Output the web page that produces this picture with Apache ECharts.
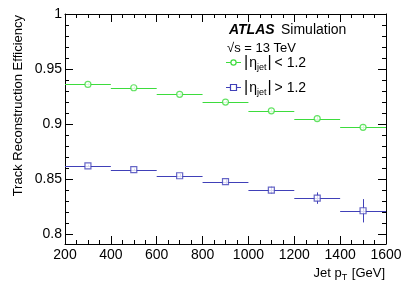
<!DOCTYPE html>
<html><head><meta charset="utf-8">
<script src="https://cdn.jsdelivr.net/npm/echarts@6/dist/echarts.min.js"></script>
<style>html,body{margin:0;padding:0;background:#fff}#c{width:407px;height:292px}</style>
</head><body><div id="c"></div>
<script>
// ---- data ----
const binLow  = [200, 400, 600, 800, 1000, 1200, 1400];
const binHigh = [400, 600, 800, 1000, 1200, 1400, 1600];
const binCenter = [300, 500, 700, 900, 1100, 1300, 1500];
const effLowEta  = [0.936, 0.933, 0.927, 0.920, 0.912, 0.905, 0.897];
const errLowEta  = [0.001, 0.001, 0.001, 0.001, 0.0015, 0.002, 0.002];
const effHighEta = [0.862, 0.8585, 0.853, 0.8476, 0.840, 0.8327, 0.8212];
const errHighEta = [0.001, 0.001, 0.0015, 0.002, 0.003, 0.0052, 0.0106];
const yMajorTicks = [0.8, 0.85, 0.9, 0.95, 1.0];
const yMinorTicks = [0.8,0.81,0.82,0.83,0.84,0.85,0.86,0.87,0.88,0.89,0.9,0.91,0.92,0.93,0.94,0.95,0.96,0.97,0.98,0.99,1.0];
const xTickLabels = [200, 400, 600, 800, 1000, 1200, 1400, 1600];

const GREEN = '#3ddc3d';
const BLUE = '#4040b8';
const FONT = 'Liberation Sans, Arial, sans-serif';

function errData(vals, errs) {
  return vals.map((v, i) => [binCenter[i], v, binLow[i], binHigh[i], errs[i]]);
}
function errRender(color) {
  return function (params, api) {
    const x = api.value(0), y = api.value(1), lo = api.value(2), hi = api.value(3), e = api.value(4);
    const pL = api.coord([lo, y]), pR = api.coord([hi, y]);
    const pT = api.coord([x, y + e]), pB = api.coord([x, y - e]);
    const sy = Math.round(pL[1]) + 0.5, sx = Math.round(pT[0]) + 0.5;
    return {
      type: 'group',
      children: [
        { type: 'line', shape: { x1: pL[0], y1: sy, x2: pR[0], y2: sy }, style: { stroke: color, lineWidth: 1 } },
        { type: 'line', shape: { x1: sx, y1: pT[1], x2: sx, y2: pB[1] }, style: { stroke: color, lineWidth: 1 } }
      ]
    };
  };
}

// lay out text pieces (for subscripts) sequentially, measuring widths
const mctx = document.createElement('canvas').getContext('2d');
function textRun(x, y, parts, alignRight) {
  const widths = parts.map(p => { mctx.font = p.size + 'px ' + FONT; return mctx.measureText(p.t).width + (p.gap || 0); });
  const total = widths.reduce((a, b) => a + b, 0);
  let cx = alignRight ? x - total : x;
  const children = [];
  parts.forEach((p, i) => {
    children.push({ type: 'text', x: cx, y: y + (p.dy || 0),
      style: { text: p.t, fontFamily: FONT, fontSize: p.size, fill: '#000', verticalAlign: 'middle' } });
    cx += widths[i];
  });
  return { type: 'group', children };
}

const chart = echarts.init(document.getElementById('c'), null, { renderer: 'canvas' });
const yMin = 0.791, yMax = 1.0;
const axisLine = { show: true, lineStyle: { color: '#000', width: 1 } };
const yAxisBase = { type: 'value', min: yMin, max: yMax, splitLine: { show: false } };

chart.setOption({
  animation: false,
  backgroundColor: '#fff',
  grid: { left: 65, right: 21, top: 14, bottom: 48, containLabel: false },
  xAxis: [
    { type: 'value', min: 200, max: 1600, interval: 200, position: 'bottom',
      axisLine: axisLine, splitLine: { show: false },
      axisTick: { show: true, inside: true, length: 8, lineStyle: { color: '#000' } },
      minorTick: { show: true, splitNumber: 4, length: 4, lineStyle: { color: '#000' } },
      axisLabel: { show: true, color: '#000', fontFamily: FONT, fontSize: 14, margin: 4,
        customValues: xTickLabels, formatter: v => String(v) } },
    { type: 'value', min: 200, max: 1600, interval: 200, position: 'top',
      axisLine: axisLine, splitLine: { show: false },
      axisTick: { show: true, inside: true, length: 8, lineStyle: { color: '#000' } },
      minorTick: { show: true, splitNumber: 4, length: 4, lineStyle: { color: '#000' } },
      axisLabel: { show: false } }
  ],
  yAxis: [
    Object.assign({}, yAxisBase, { position: 'left', axisLine: axisLine,
      axisTick: { show: true, inside: true, length: 8, customValues: yMajorTicks, lineStyle: { color: '#000' } },
      axisLabel: { show: true, customValues: yMajorTicks, color: '#000', fontFamily: FONT, fontSize: 14, margin: 3,
        formatter: v => String(+v.toFixed(3)) } }),
    Object.assign({}, yAxisBase, { position: 'left', axisLine: { show: false },
      axisTick: { show: true, inside: true, length: 4, customValues: yMinorTicks, lineStyle: { color: '#000' } },
      axisLabel: { show: false } }),
    Object.assign({}, yAxisBase, { position: 'right', axisLine: axisLine,
      axisTick: { show: true, inside: true, length: 8, customValues: yMajorTicks, lineStyle: { color: '#000' } },
      axisLabel: { show: false } }),
    Object.assign({}, yAxisBase, { position: 'right', axisLine: { show: false },
      axisTick: { show: true, inside: true, length: 4, customValues: yMinorTicks, lineStyle: { color: '#000' } },
      axisLabel: { show: false } })
  ],
  series: [
    { type: 'custom', name: 'low', renderItem: errRender(GREEN), data: errData(effLowEta, errLowEta),
      encode: { x: 0, y: 1 }, z: 2 },
    { type: 'custom', name: 'high', renderItem: errRender(BLUE), data: errData(effHighEta, errHighEta),
      encode: { x: 0, y: 1 }, z: 2 },
    { type: 'scatter', data: binCenter.map((x, i) => [x, effLowEta[i]]), symbol: 'circle', symbolSize: 6,
      itemStyle: { color: '#fff', borderColor: GREEN, borderWidth: 1.2 }, z: 3 },
    { type: 'scatter', data: binCenter.map((x, i) => [x, effHighEta[i]]), symbol: 'rect', symbolSize: 6,
      itemStyle: { color: '#fff', borderColor: BLUE, borderWidth: 1.2 }, z: 3 }
  ],
  graphic: [
    { type: 'text', x: 18, y: 15, rotation: Math.PI / 2,
      style: { text: 'Track Reconstruction Efficiency', fontFamily: FONT, fontSize: 13, fill: '#000',
        align: 'right', verticalAlign: 'middle' } },
    textRun(385, 273, [{ t: 'Jet p', size: 13 }, { t: 'T', size: 9, dy: 5, gap: 1 }, { t: ' [GeV]', size: 13 }], true),
    { type: 'text', x: 229, y: 30,
      style: { text: 'ATLAS', fontFamily: FONT, fontSize: 14, fontWeight: 'bold', fontStyle: 'italic', fill: '#000', verticalAlign: 'middle' } },
    { type: 'text', x: 281, y: 30,
      style: { text: 'Simulation', fontFamily: FONT, fontSize: 14, fill: '#000', verticalAlign: 'middle' } },
    { type: 'text', x: 227, y: 48,
      style: { text: '√s = 13 TeV', fontFamily: FONT, fontSize: 13, fill: '#000', verticalAlign: 'middle' } },
    // legend entry 1
    { type: 'line', shape: { x1: 226, y1: 62.5, x2: 241, y2: 62.5 }, style: { stroke: GREEN, lineWidth: 1 } },
    { type: 'circle', shape: { cx: 233.5, cy: 62.5, r: 2.6 }, style: { fill: '#fff', stroke: GREEN, lineWidth: 1.2 } },
    textRun(244, 63, [{ t: '|', size: 16, gap: 1 }, { t: 'η', size: 14 }, { t: 'jet', size: 9, dy: 5, gap: 1 }, { t: '|', size: 16, gap: 3 }, { t: '< 1.2', size: 14 }], false),
    // legend entry 2
    { type: 'line', shape: { x1: 226, y1: 87.5, x2: 241, y2: 87.5 }, style: { stroke: BLUE, lineWidth: 1 } },
    { type: 'rect', shape: { x: 230.5, y: 84.5, width: 6, height: 6 }, style: { fill: '#fff', stroke: BLUE, lineWidth: 1.2 } },
    textRun(244, 88, [{ t: '|', size: 16, gap: 1 }, { t: 'η', size: 14 }, { t: 'jet', size: 9, dy: 5, gap: 1 }, { t: '|', size: 16, gap: 3 }, { t: '> 1.2', size: 14 }], false)
  ]
});
</script></body></html>
